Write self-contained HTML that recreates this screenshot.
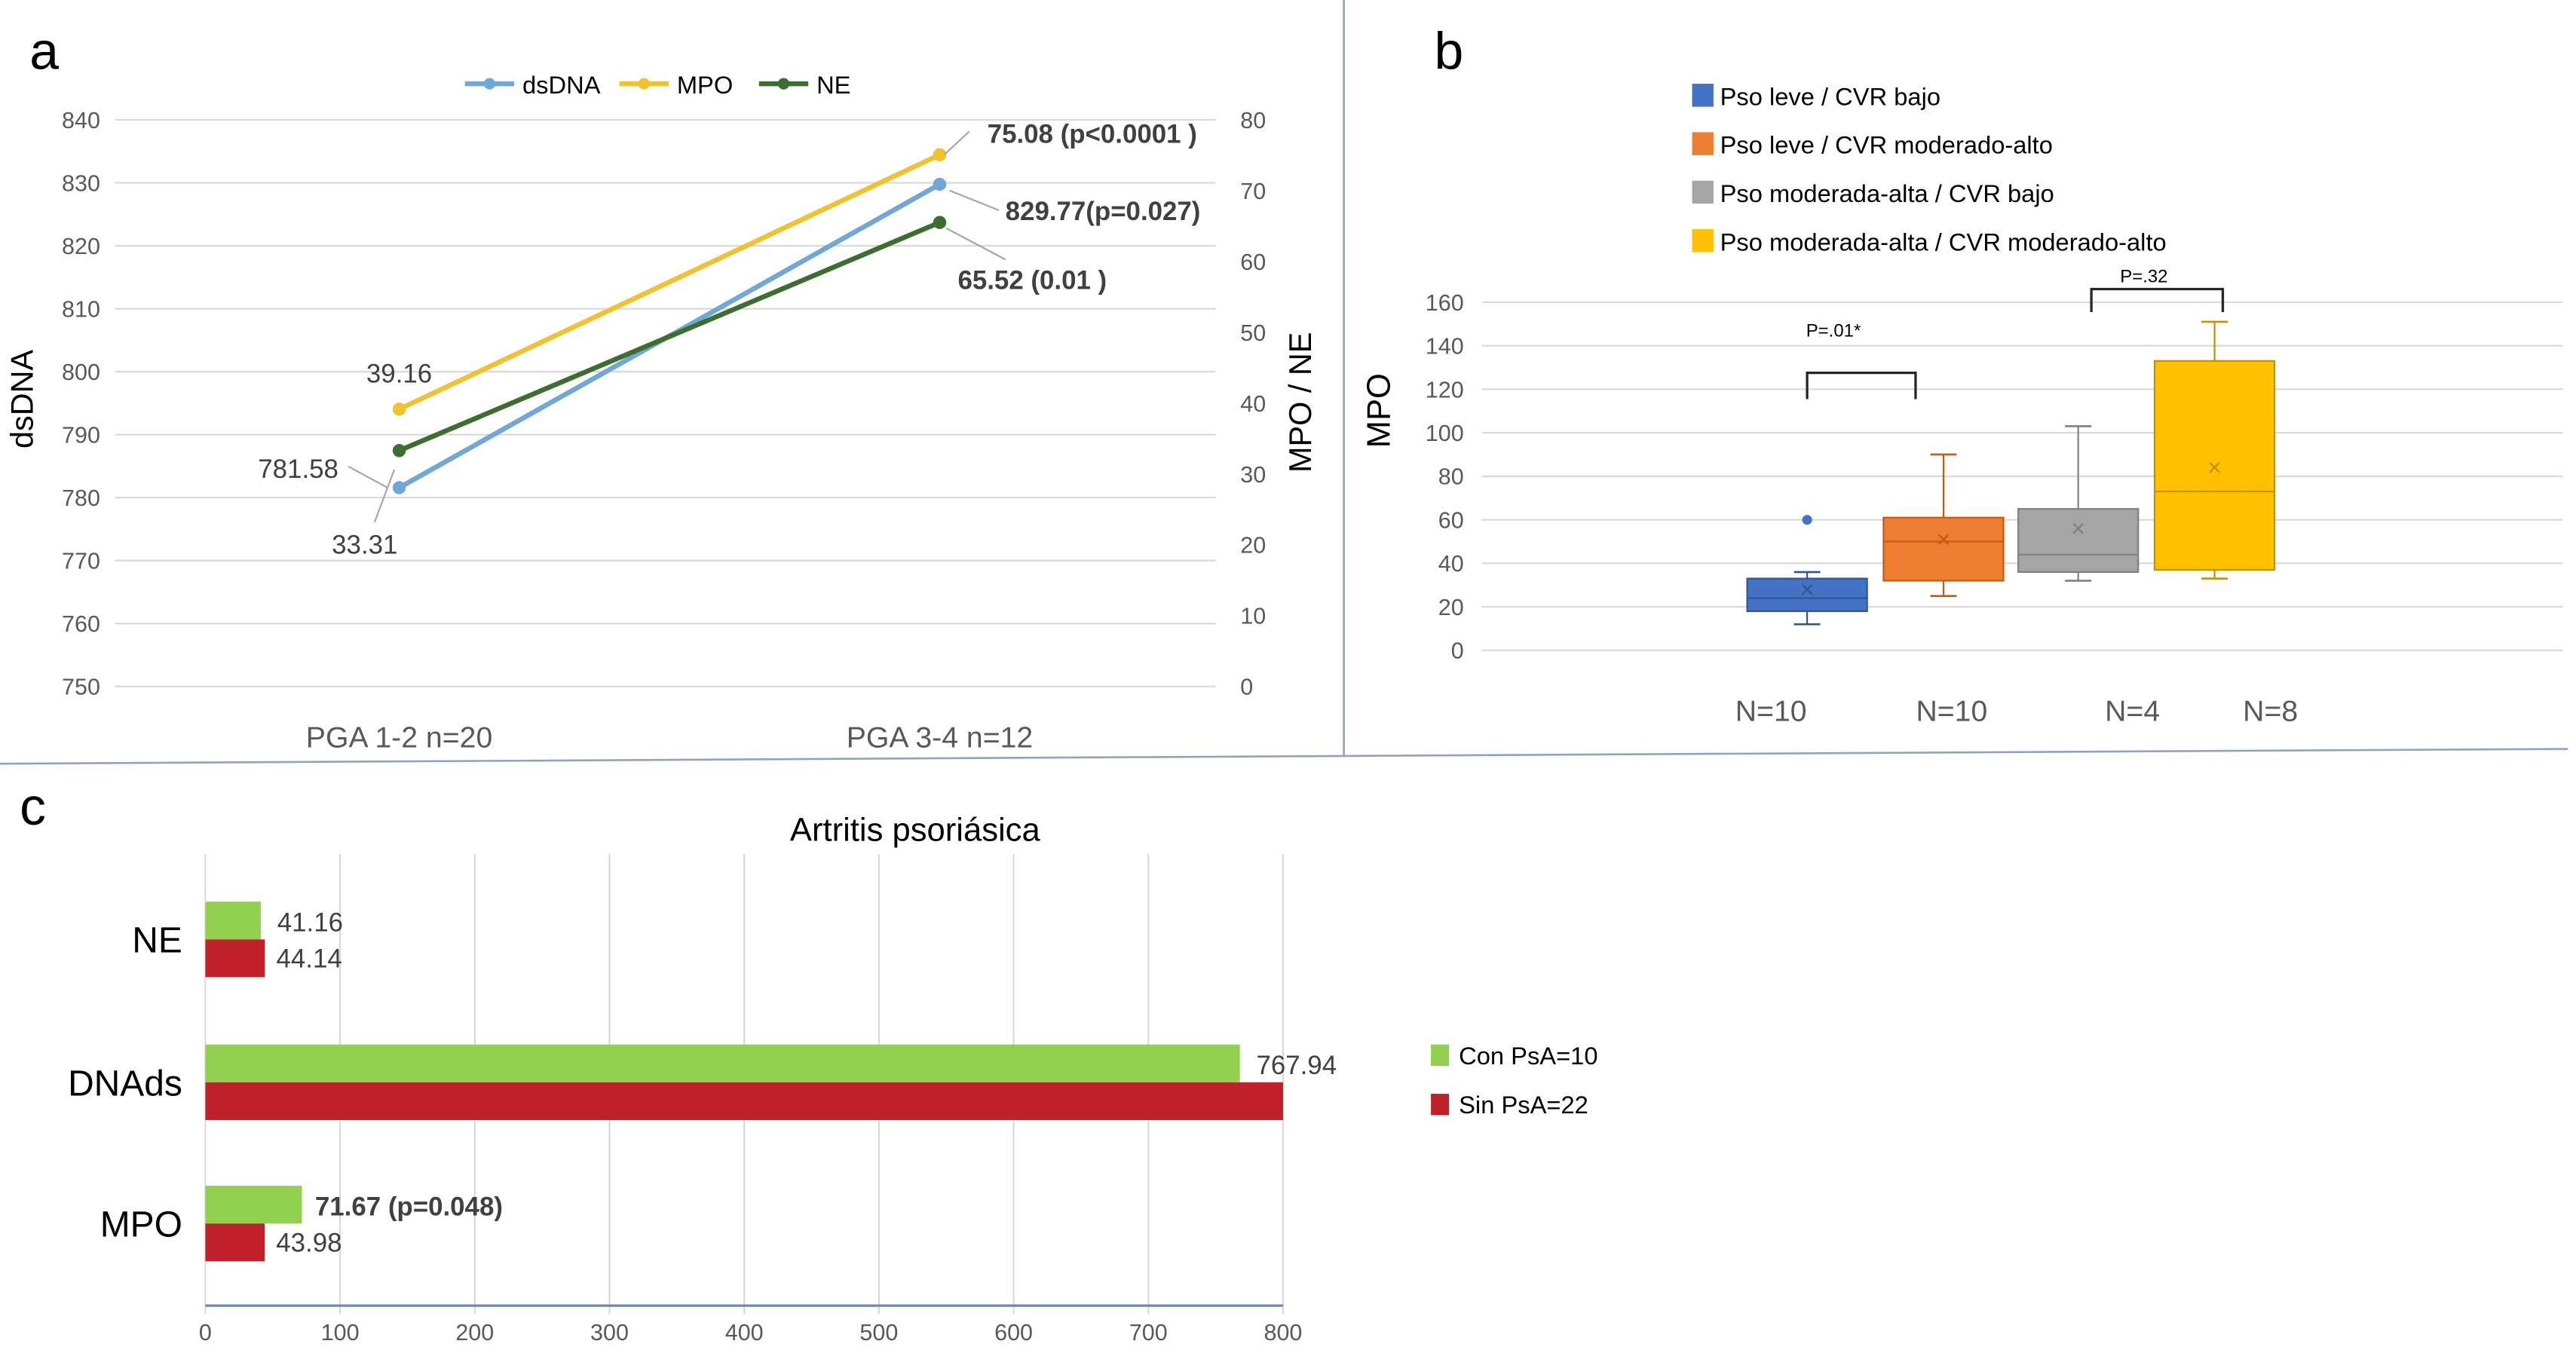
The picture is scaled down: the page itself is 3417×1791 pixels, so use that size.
<!DOCTYPE html>
<html><head><meta charset="utf-8"><style>
html,body{margin:0;padding:0;background:#fff;}
svg{display:block;font-family:"Liberation Sans",sans-serif;}
</style></head><body>
<svg id="fig" width="3417" height="1791" viewBox="0 0 1568 822" preserveAspectRatio="none" xmlns="http://www.w3.org/2000/svg">
<rect width="1568" height="822" fill="#fff"/>
<line x1="818" y1="0" x2="818" y2="460" stroke="#8ea3c0" stroke-width="1.2"/>
<line x1="0" y1="465" x2="1563" y2="456" stroke="#8ea3c0" stroke-width="1.2"/>
<text x="18" y="42" font-size="32">a</text>
<text x="873" y="42" font-size="32">b</text>
<text x="12" y="502" font-size="32">c</text>
<g id="ga"></g><g id="gb"></g><g id="gc"></g>
</svg>
<script>
// ---- Panel a data
const aCats=["PGA 1-2 n=20","PGA 3-4 n=12"];
const aDsDNA=[781.58,829.77];
const aMPO=[39.16,75.08];
const aNE=[33.31,65.52];
const aLeftTicks=[750,760,770,780,790,800,810,820,830,840];
const aRightTicks=[0,10,20,30,40,50,60,70,80];
// ---- Panel b data
const bGroups=["Pso leve / CVR bajo","Pso leve / CVR moderado-alto","Pso moderada-alta / CVR bajo","Pso moderada-alta / CVR moderado-alto"];
const bColors=["#4472c4","#ed7d31","#a5a5a5","#ffc000"];
const bStroke=["#2f5597","#c55a11","#7f7f7f","#bf9000"];
const bWhiskLo=[12,25,32,33];
const bQ1=[18,32,36,37];
const bMedian=[24,50,44,73];
const bQ3=[33,61,65,133];
const bWhiskHi=[36,90,103,151];
const bMean=[28,51,56,84];
const bOutliers=[[60],[],[],[]];
const bTicks=[0,20,40,60,80,100,120,140,160];
const bN=["N=10","N=10","N=4","N=8"];
// ---- Panel c data
const cCats=["NE","DNAds","MPO"];
const cCon=[41.16,767.94,71.67];
const cSin=[44.14,800,43.98];
const cConLabels=["41.16","767.94","71.67 (p=0.048)"];
const cSinLabels=["44.14","","43.98"];
const cTicks=[0,100,200,300,400,500,600,700,800];

const NS="http://www.w3.org/2000/svg";
function mk(p,tag,at,txt){const e=document.createElementNS(NS,tag);for(const k in at)e.setAttribute(k,at[k]);if(txt!==undefined)e.textContent=txt;p.appendChild(e);return e;}

// ===== Panel a
(function(){
const g=document.getElementById('ga');
const yL=v=>418-(v-750)/90*345, yR=v=>418-v/80*345, xC=i=>243+i*329;
aLeftTicks.forEach(t=>{
 let l=mk(g,'line',{x1:70,x2:740,y1:yL(t),y2:yL(t),stroke:'#d9d9d9','stroke-width':1});
 
 let tx=mk(g,'text',{x:61,y:yL(t)+5,'text-anchor':'end','font-size':14,fill:'#595959'},t);
 
});
aRightTicks.forEach(t=>{
 let tx=mk(g,'text',{x:755,y:yR(t)+5,'font-size':14,fill:'#595959'},t);
 
});
aCats.forEach((c,i)=>{let tx=mk(g,'text',{x:xC(i),y:455,'text-anchor':'middle','font-size':18,fill:'#595959'},c);
 });
let t1=mk(g,'text',{transform:'translate(20,243) rotate(-90)','text-anchor':'middle','font-size':19},'dsDNA');

let t2=mk(g,'text',{transform:'translate(798,245) rotate(-90)','text-anchor':'middle','font-size':19},'MPO / NE');

const series=[[aDsDNA,yL,'#6fa8d6','dsDNA'],[aMPO,yR,'#f2c12e','MPO'],[aNE,yR,'#3e6e2f','NE']];
series.forEach(([d,f,col,n])=>{
 let ln=mk(g,'line',{x1:xC(0),y1:f(d[0]),x2:xC(1),y2:f(d[1]),stroke:col,'stroke-width':3});
 
 d.forEach((v,i)=>{let c=mk(g,'circle',{cx:xC(i),cy:f(v),r:4,fill:col});
  });
});
// legend
const lx=[283,377,462];
series.forEach(([d,f,col,n],i)=>{
 let ln=mk(g,'line',{x1:lx[i],x2:lx[i]+30,y1:51,y2:51,stroke:col,'stroke-width':3});
 
 let c=mk(g,'circle',{cx:lx[i]+15,cy:51,r:3.5,fill:col});
 
 let tx=mk(g,'text',{x:lx[i]+35,y:57,'font-size':15},n);
 
});
// data labels
const lab=(x,y,s,b,anchor)=>{let t=mk(g,'text',{x:x,y:y,'font-size':16,fill:'#404040','font-weight':b?'bold':'normal','text-anchor':anchor||'start'},s);
 };
lab(xC(0),233,aMPO[0].toFixed(2),false,'middle');
lab(206,291,aDsDNA[0].toFixed(2),false,'end');
lab(222,337,aNE[0].toFixed(2),false,'middle');
lab(601,87,aMPO[1].toFixed(2)+' (p<0.0001 )',true);
lab(612,134,aDsDNA[1].toFixed(2)+'(p=0.027)',true);
lab(583,176,aNE[1].toFixed(2)+' (0.01 )',true);
[[212,284,236,297],[228,318,240,286],[590,80,575,94],[608,128,578,116],[612,158,576,139]].forEach(p=>{
 let l=mk(g,'line',{x1:p[0],y1:p[1],x2:p[2],y2:p[3],stroke:'#a6a6a6','stroke-width':1});
 });
})();

// ===== Panel b
(function(){
const g=document.getElementById('gb');
const y=v=>396-v/160*212, cx=[1100,1183,1265,1348], bw=73;
bTicks.forEach(t=>{
 let l=mk(g,'line',{x1:902,x2:1560,y1:y(t),y2:y(t),stroke:'#d9d9d9','stroke-width':1});
 
 let tx=mk(g,'text',{x:891,y:y(t)+5,'text-anchor':'end','font-size':14,fill:'#595959'},t);
 
});
let yt=mk(g,'text',{transform:'translate(846,250) rotate(-90)','text-anchor':'middle','font-size':20},'MPO');

bGroups.forEach((n,i)=>{
 let r=mk(g,'rect',{x:1030,y:51+i*29.5,width:13,height:14,fill:bColors[i]});
 
 let t=mk(g,'text',{x:1047,y:64+i*29.5,'font-size':15},n);
 
 const x=cx[i];
 let w1=mk(g,'line',{x1:x,x2:x,y1:y(bWhiskLo[i]),y2:y(bWhiskHi[i]),stroke:bStroke[i],'stroke-width':1});
 
 [bWhiskLo[i],bWhiskHi[i]].forEach(v=>{let c=mk(g,'line',{x1:x-8,x2:x+8,y1:y(v),y2:y(v),stroke:bStroke[i],'stroke-width':1.2});
  });
 let b=mk(g,'rect',{x:x-bw/2,y:y(bQ3[i]),width:bw,height:y(bQ1[i])-y(bQ3[i]),fill:bColors[i],stroke:bStroke[i],'stroke-width':1});
 
 let m=mk(g,'line',{x1:x-bw/2,x2:x+bw/2,y1:y(bMedian[i]),y2:y(bMedian[i]),stroke:bStroke[i],'stroke-width':1});
 
 let mx=mk(g,'text',{x:x,y:y(bMean[i])+5,'text-anchor':'middle','font-size':15,fill:bStroke[i]},'×');
 
 bOutliers[i].forEach(v=>{let o=mk(g,'circle',{cx:x,cy:y(v),r:3,fill:bColors[i]});
  });
 let nt=mk(g,'text',{x:[1078,1188,1298,1382][i],y:439,'text-anchor':'middle','font-size':18,fill:'#595959'},bN[i]);
 
});
[[1100,1166,227,243,1116,205,'P=.01*'],[1273,1353,176,190,1305,172,'P=.32']].forEach(p=>{
 let br=mk(g,'path',{d:`M${p[0]} ${p[3]} V${p[2]} H${p[1]} V${p[3]}`,fill:'none',stroke:'#262626','stroke-width':1.5});
 
 let t=mk(g,'text',{x:p[4],y:p[5],'text-anchor':'middle','font-size':11},p[6]);
 
});
})();

// ===== Panel c
(function(){
const g=document.getElementById('gc');
const x=v=>125+v/800*656, cy=[572,659,745], bh=23;
let ti=mk(g,'text',{x:557,y:512,'text-anchor':'middle','font-size':20},'Artritis psoriásica');

cTicks.forEach(t=>{
 let l=mk(g,'line',{x1:x(t),x2:x(t),y1:520,y2:800,stroke:'#d9d9d9','stroke-width':1});
 
 let tx=mk(g,'text',{x:x(t),y:816,'text-anchor':'middle','font-size':14,fill:'#595959'},t);
 
});
let ax=mk(g,'line',{x1:125,x2:781,y1:795,y2:795,stroke:'#6d8aa8','stroke-width':1.5});

cCats.forEach((c,i)=>{
 let t=mk(g,'text',{x:111,y:cy[i]+8,'text-anchor':'end','font-size':22},c);
 
 let r1=mk(g,'rect',{x:x(0),y:cy[i]-bh,width:x(cCon[i])-x(0),height:bh,fill:'#92d050'});
 
 let r2=mk(g,'rect',{x:x(0),y:cy[i],width:x(cSin[i])-x(0),height:bh,fill:'#c0202a'});
 
 let l1=mk(g,'text',{x:x(cCon[i])+(i==2?8:10),y:cy[i]-5,'font-size':16,fill:'#404040','font-weight':i==2?'bold':'normal'},cConLabels[i]);
 
 let l2=mk(g,'text',{x:x(cSin[i])+7,y:cy[i]+17,'font-size':16,fill:'#404040'},cSinLabels[i]);
 
});
[['#92d050','Con PsA=10',636],['#c0202a','Sin PsA=22',666]].forEach(p=>{
 let r=mk(g,'rect',{x:871,y:p[2],width:11,height:13,fill:p[0]});
 
 let t=mk(g,'text',{x:888,y:p[2]+12,'font-size':15},p[1]);
 
});
})();
</script>
</body></html>
